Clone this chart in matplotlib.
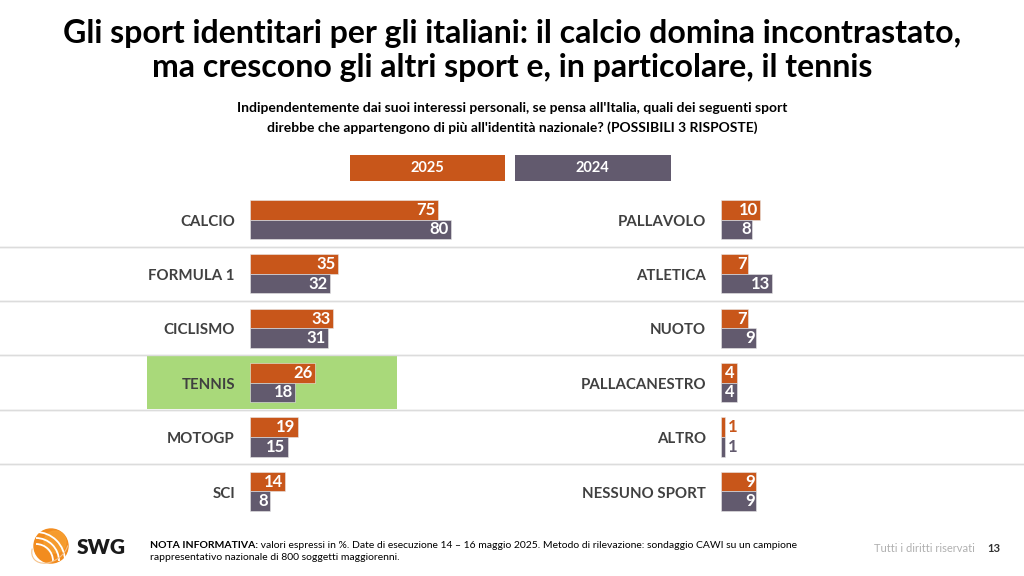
import matplotlib
matplotlib.use('Agg')
import matplotlib.pyplot as plt
from matplotlib.patches import Rectangle, Circle, Arc
from matplotlib.transforms import blended_transform_factory

plt.rcParams['font.family'] = ['Lato', 'DejaVu Sans']

# dati
left_cats = ['CALCIO', 'FORMULA 1', 'CICLISMO', 'TENNIS', 'MOTOGP', 'SCI']
left_2025 = [75, 35, 33, 26, 19, 14]
left_2024 = [80, 32, 31, 18, 15, 8]
right_cats = ['PALLAVOLO', 'ATLETICA', 'NUOTO', 'PALLACANESTRO', 'ALTRO', 'NESSUNO SPORT']
right_2025 = [10, 7, 7, 4, 1, 9]
right_2024 = [8, 13, 9, 4, 1, 9]
series_names = ['2025', '2024']
highlight = 'TENNIS'

ORANGE = '#C8561A'
PURPLE = '#625A6E'
GRAY = '#404040'
W, H = 1024, 576


def fx(px):
    return px / W


def fy(py):
    return 1 - py / H


fig = plt.figure(figsize=(10.24, 5.76), dpi=100)

# assi delle barre
ax_bottom = fy(518.6)
ax_h = fy(192.35) - ax_bottom
axl = fig.add_axes([fx(250), ax_bottom, fx(251), ax_h])
axr = fig.add_axes([fx(721), ax_bottom, fx(156), ax_h])
axl.set_xlim(0, 100)
axr.set_xlim(0, 40)

bh = 0.36


def draw_side(ax, cats, v25, v24, label_x):
    n = len(cats)
    ax.set_ylim(n - 0.5, -0.5)
    ax.axis('off')
    ys = list(range(n))
    ax.barh([y - bh / 2 for y in ys], v25, height=bh, color=ORANGE,
            edgecolor='#e8e8e8', linewidth=0.4, zorder=3)
    ax.barh([y + bh / 2 for y in ys], v24, height=bh, color=PURPLE,
            edgecolor='#e8e8e8', linewidth=0.4, zorder=3)
    span = ax.get_xlim()[1]
    pad = span * 0.01
    for y, a, b in zip(ys, v25, v24):
        for val, off, col in ((a, -bh / 2, ORANGE), (b, bh / 2, PURPLE)):
            if val <= 2:
                ax.text(val + pad * 2, y + off, str(val), ha='left', va='center',
                        color=col, fontsize=12, fontweight='bold', zorder=4)
            else:
                ax.text(val - pad, y + off, str(val), ha='right', va='center',
                        color='white', fontsize=12, fontweight='bold', zorder=4)
    tr = blended_transform_factory(fig.transFigure, ax.transData)
    for y, c in zip(ys, cats):
        ax.text(fx(label_x), y + 0.04, c, transform=tr, ha='right', va='center',
                color=GRAY, fontsize=10.8, fontweight='bold', zorder=4)
        if c == highlight:
            ax.add_patch(Rectangle((fx(147), y - 0.49), fx(250), 0.98, transform=tr,
                                   facecolor='#A9D97A', edgecolor='none', zorder=1,
                                   clip_on=False))
    # linee di separazione
    for y in range(n - 1):
        ax.plot([0, 1], [y + 0.5, y + 0.5], transform=tr, color='#dcdcdc',
                linewidth=1, clip_on=False, zorder=0)


draw_side(axl, left_cats, left_2025, left_2024, 235)
draw_side(axr, right_cats, right_2025, right_2024, 706)

# legenda
for name, x0, col in zip(series_names, (349.5, 515), (ORANGE, PURPLE)):
    fig.patches.append(Rectangle((fx(x0), fy(181)), fx(155.5), fy(154.5) - fy(181),
                                 transform=fig.transFigure, facecolor=col,
                                 edgecolor='none'))
    fig.text(fx(x0 + 77.75), fy(168), name, ha='center', va='center',
             color='white', fontsize=10.5, fontweight='bold')

# titolo
fig.text(0.5, fy(33), 'Gli sport identitari per gli italiani: il calcio domina incontrastato,',
         ha='center', va='center', fontsize=23, fontweight='bold', color='black')
fig.text(0.5, fy(68), 'ma crescono gli altri sport e, in particolare, il tennis',
         ha='center', va='center', fontsize=23, fontweight='bold', color='black')
fig.text(0.5, fy(108), "Indipendentemente dai suoi interessi personali, se pensa all'Italia, quali dei seguenti sport",
         ha='center', va='center', fontsize=10, fontweight='bold', color='black')
fig.text(0.5, fy(128), "direbbe che appartengono di più all'identità nazionale? (POSSIBILI 3 RISPOSTE)",
         ha='center', va='center', fontsize=10, fontweight='bold', color='black')

# piè di pagina
nota = fig.text(fx(150), fy(545), 'NOTA INFORMATIVA:', ha='left', va='center',
                fontsize=7.5, fontweight='bold', color='black')
fig.add_artist(plt.Annotation(
    ' valori espressi in %. Date di esecuzione 14 – 16 maggio 2025. Metodo di rilevazione: '
    'sondaggio CAWI su un campione', xy=(1, 0.5), xycoords=nota, ha='left', va='center',
    fontsize=7.5, color='black'))
fig.text(fx(150), fy(558), 'rappresentativo nazionale di 800 soggetti maggiorenni.',
         ha='left', va='center', fontsize=7.5, color='black')
fig.text(fx(975), fy(549), 'Tutti i diritti riservati', ha='right', va='center',
         fontsize=8, color='#b0b0b0')
fig.text(fx(994), fy(549), '13', ha='center', va='center', fontsize=8,
         fontweight='bold', color='#303030')

# logo
lax = fig.add_axes([fx(28), fy(568), fx(44), fy(526) - fy(568)])
lax.set_xlim(-1.1, 1.1)
lax.set_ylim(-1.05, 1.05)
lax.set_aspect('equal')
lax.axis('off')
lax.add_patch(Circle((0.05, 0.05), 0.85, color='#F28C1E'))
lax.add_patch(Circle((0.25, 0.25), 0.55, color='#F7A234', alpha=0.7))
for r in (0.55, 0.85, 1.15):
    lax.add_patch(Arc((-0.7, -0.7), 2 * r + 0.6, 2 * r + 0.6, theta1=0, theta2=90,
                      color='white', linewidth=1.3))
lax.add_patch(Arc((0.0, 0.0), 2.0, 1.4, angle=35, theta1=150, theta2=330,
                  color='#f5c28a', linewidth=0.8))
fig.text(fx(77), fy(548), 'SWG', ha='left', va='center', fontsize=15,
         fontweight='heavy', color='#1a1a1a')

fig.savefig('out.png', dpi=100)
